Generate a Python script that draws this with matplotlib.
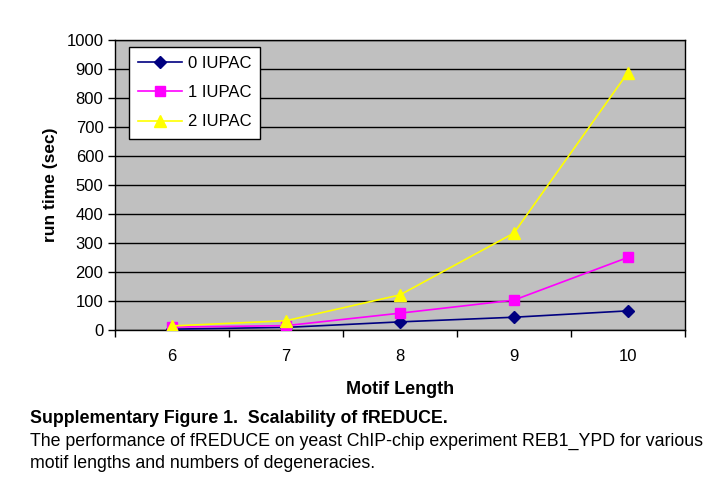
import numpy as np
from matplotlib import pyplot as plt

plt.rcParams['font.family'] = ['Liberation Sans', 'DejaVu Sans']

# motif lengths and run times (sec)
motif_len = ['6', '7', '8', '9', '10']
iupac0 = [3, 9, 28, 44, 66]
iupac1 = [10, 15, 58, 103, 250]
iupac2 = [14, 32, 121, 334, 887]

fig = plt.figure(figsize=(7.2, 4.8), dpi=100)
ax = fig.add_axes([0.16, 0.3125, 0.791, 0.6042])
ax.set_facecolor('#C0C0C0')

x = np.arange(1, len(motif_len) + 1)
ax.plot(x, iupac0, color='#000080', marker='D', markersize=6, lw=1.2, label='0 IUPAC', zorder=3)
ax.plot(x, iupac1, color='#FF00FF', marker='s', markersize=7, lw=1.2, label='1 IUPAC', zorder=3)
ax.plot(x, iupac2, color='#FFFF00', marker='^', markersize=8, lw=1.2, label='2 IUPAC', zorder=3)

ax.set_xlim(0.5, len(motif_len) + 0.5)
ax.set_ylim(0, 1000)
ax.set_yticks(np.arange(0, 1001, 100))
ax.yaxis.grid(True, color='black', lw=1)
ax.set_axisbelow(True)

# categories labelled at centers, tick marks between them
ax.set_xticks(x)
ax.set_xticklabels(motif_len)
ax.tick_params(axis='x', which='major', length=0, pad=14, labelsize=12)
ax.set_xticks(np.arange(0.5, len(motif_len) + 1, 1), minor=True)
ax.tick_params(axis='x', which='minor', length=5, width=1, direction='out')
ax.tick_params(axis='y', length=5, width=1, labelsize=12)

for s in ax.spines.values():
    s.set_color('black')
    s.set_linewidth(1)

ax.set_ylabel('run time (sec)', fontsize=12.5, fontweight='bold', labelpad=6)
ax.set_xlabel('Motif Length', fontsize=13, fontweight='bold', labelpad=12)

leg = ax.legend(loc='upper left', bbox_to_anchor=(0.0246, 0.976), fontsize=12,
                fancybox=False, edgecolor='black', framealpha=1, handlelength=2.6,
                handletextpad=0.35, borderpad=0.55, labelspacing=0.85,
                borderaxespad=0)
leg.get_frame().set_linewidth(1)

fig.text(0.042, 0.128, 'Supplementary Figure 1.  Scalability of fREDUCE.',
         fontsize=12.8, fontweight='bold', va='center')
fig.text(0.042, 0.081, 'The performance of fREDUCE on yeast ChIP-chip experiment REB1_YPD for various',
         fontsize=12.8, va='center')
fig.text(0.042, 0.035, 'motif lengths and numbers of degeneracies.', fontsize=12.8, va='center')

fig.savefig('out.png', dpi=100)
